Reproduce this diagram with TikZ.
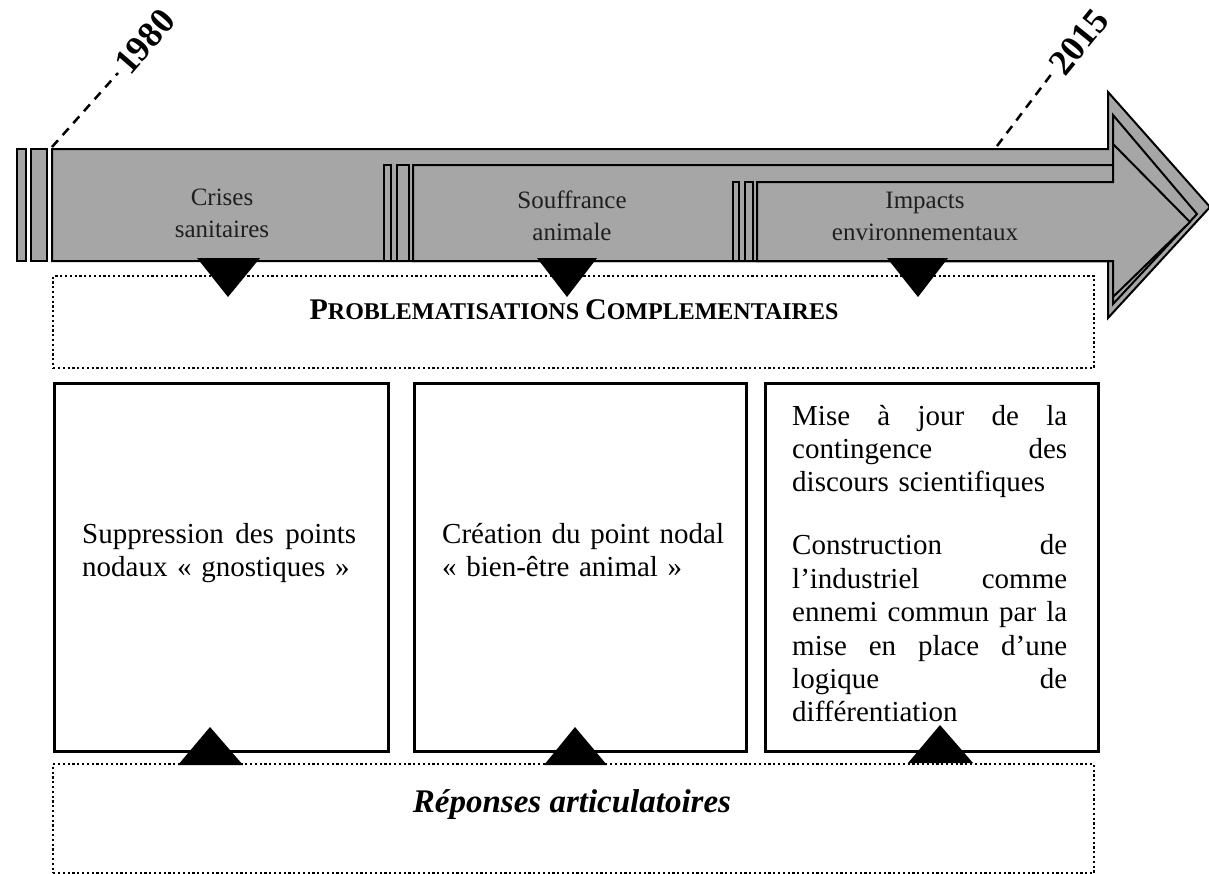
\documentclass[tikz,border=0pt]{standalone}
\usepackage{fontspec}
\setmainfont{Liberation Serif}
\definecolor{bandgray}{HTML}{A6A6A6}
% small capitals built from two sizes of the bold face
\newcommand{\fakesc}[2]{{\fontsize{30}{30}\selectfont #1}{\fontsize{24}{24}\selectfont #2}}
% a justified full line of a text column: words are separated by \hfill
\newcommand{\fullline}[2][275pt]{\leavevmode\hbox to #1{#2}}
\begin{document}
\begin{tikzpicture}[x=1pt,y=-1pt,
  band/.style={draw=black,line width=2pt,fill=bandgray,line join=miter},
  bar/.style={draw=black,line width=1.8pt,fill=bandgray},
  dotbox/.style={draw=black,line width=2.2pt,dash pattern=on 2.2pt off 2.6pt,inner sep=0,anchor=north west},
  card/.style={draw=black,line width=2.5pt,inner sep=0,anchor=north west,minimum width=333pt,minimum height=368pt},
  pointer/.style={fill=black},
  theme/.style={font=\fontsize{25}{32}\selectfont,text width=220pt,align=center,inner sep=0,anchor=base,text=black!88},
  bodytext/.style={font=\fontsize{29}{33.4}\selectfont,text width=300pt,align=left,inner sep=0,anchor=base west},
  yearline/.style={line width=2.5pt,dash pattern=on 9pt off 7pt},
  year/.style={font=\fontsize{36}{36}\selectfont\bfseries,inner sep=0,anchor=west}
]
\fill[white] (0,0) rectangle (1209,873);
\useasboundingbox (0,0) rectangle (1209,873);

% year markers
\coordinate (y1980a) at (52,147);
\coordinate (y1980b) at (118,73);
\coordinate (y2015a) at (997,146);
\coordinate (y2015b) at (1053,72);
\draw[yearline] (y1980a) -- (y1980b);
\draw[yearline] (y2015a) -- (y2015b);
\node[year,rotate=49] (t1980) at (121,69) {1980};
\node[year,rotate=51] (t2015) at (1056,70) {2015};

% three nested time arrows
\draw[band] (52,149) -- (1108,149) -- (1108,92) -- (1210,207) -- (1108,318) -- (1108,261) -- (52,261) -- cycle;
\draw[band] (413,165) -- (1113,165) -- (1113,115) -- (1197,214) -- (1113,304) -- (1113,261) -- (413,261) -- cycle;
\draw[band] (757,182) -- (1113,182) -- (1113,144) -- (1190,222) -- (1113,297) -- (1113,261) -- (757,261) -- cycle;

% break bars at the start of each arrow
\draw[bar] (17,149) rectangle (26,261);
\draw[bar] (31,149) rectangle (47,261);
\draw[bar] (384,165) rectangle (391,261);
\draw[bar] (397,165) rectangle (409,261);
\draw[bar] (733,182) rectangle (739,261);
\draw[bar] (745,182) rectangle (753,261);

% arrow labels
\node[theme] (crises) at (222,205) {Crises\\sanitaires};
\node[theme] (souffrance) at (572,208) {Souffrance\\animale};
\node[theme] (impacts) at (925,208) {Impacts\\environnementaux};

% problematisation band
\node[dotbox,minimum width=1041pt,minimum height=92pt] (probbox) at (52,275) {};
\node[font=\fontsize{24}{24}\selectfont\bfseries,inner sep=0,anchor=base] (prob) at (574,319)
  {\fakesc{P}{ROBLEMATISATIONS} \fakesc{C}{OMPLEMENTAIRES}};

% answer cards
\node[card,minimum width=334pt] (card1) at (53,382) {};
\node[card,minimum width=332pt] (card2) at (413,382) {};
\node[card,minimum width=333pt] (card3) at (764,382) {};

\node[bodytext] (txt1) at (82,543) {\fullline[274pt]{Suppression\hfill des\hfill points}\\nodaux «~gnostiques~»};
\node[bodytext] (txt2) at (442,543) {Création du point nodal\\«~bien-être animal~»};
\node[bodytext] (txt3) at (792,425) {\fullline{Mise\hfill à\hfill jour\hfill de\hfill la}\\
  \fullline{contingence\hfill des}\\
  discours scientifiques\\[29.6pt]
  \fullline{Construction\hfill de}\\
  \fullline{l’industriel\hfill comme}\\
  \fullline{ennemi\hfill commun\hfill par\hfill la}\\
  \fullline{mise\hfill en\hfill place\hfill d’une}\\
  \fullline{logique\hfill de}\\
  différentiation};

% articulatory answers band
\node[dotbox,minimum width=1041pt,minimum height=109pt] (repbox) at (52,763) {};
\node[font=\fontsize{33}{33}\selectfont\bfseries\itshape,inner sep=0,anchor=base] (rep) at (572,812) {Réponses articulatoires};

% pointers from the arrow down to the band
\fill[pointer] (197,258) -- (260,258) -- (228,297) -- cycle;
\fill[pointer] (537,258) -- (597,258) -- (567,297) -- cycle;
\fill[pointer] (887,258) -- (948,258) -- (918,297) -- cycle;

% pointers from the answers band up into the cards
\fill[pointer] (178,765) -- (243,765) -- (210,727) -- cycle;
\fill[pointer] (544,765) -- (607,765) -- (575,727) -- cycle;
\fill[pointer] (908,763) -- (973,763) -- (940,725) -- cycle;
\end{tikzpicture}
\end{document}
